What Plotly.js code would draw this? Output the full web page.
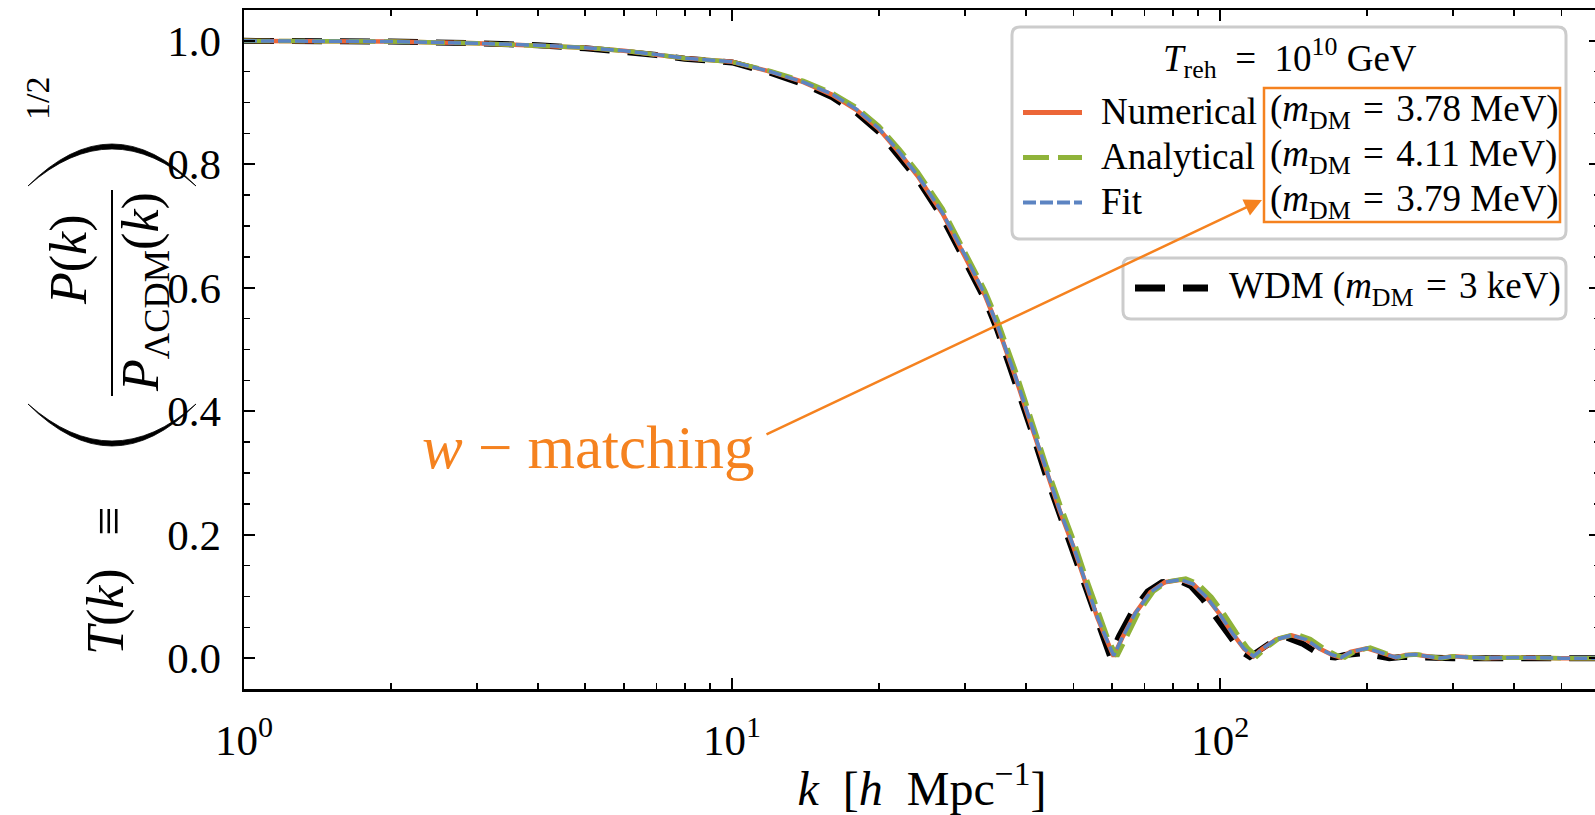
<!DOCTYPE html>
<html><head><meta charset="utf-8">
<script src="https://cdn.plot.ly/plotly-3.0.1.min.js"></script>
<style>html,body{margin:0;padding:0;overflow:hidden;background:#fff}</style>
</head><body>
<div id="chart" style="width:1602px;height:815px"></div>
<script>
// ---------------- data ----------------
const kNumerical = [1,1.5,2,3,4,5,6,7,8,10, 12,14,16,18,20,22,24,27,30,33, 35,38,41,44,47,50,53,56,58.5,60.5, 63,67,72,77,83,88,94,100,106,112, 117,122,130,140,150,160,170,177,185,200, 215,229,240,251,265,281,300,320,350,400, 450,500,600];
const tNumerical = [1,0.9995,0.999,0.996,0.993,0.989,0.984,0.978,0.972,0.966, 0.95,0.933,0.913,0.888,0.857,0.819,0.781,0.72,0.652,0.587, 0.537,0.457,0.377,0.302,0.237,0.181,0.121,0.066,0.03,0.003, 0.033,0.073,0.107,0.123,0.127,0.12,0.098,0.07,0.04,0.015, 0.003,0.015,0.03,0.037,0.03,0.015,0.005,0.001,0.01,0.016, 0.008,0.001,0.005,0.006,0.003,0,0.003,0.002,0,0.001, 0,0,0];

const kAnalytical = [1,1.5,2,3,4,5,6,7,8,10, 12,14,16,18,20,22,24,27,30,33, 35,38,41,44,47,50,53,56,59,61.5, 64,68,73,78,85,90,96,102,108,114, 119,124,132,143,153,163,173,180,188,203, 218,232,243,255,268,285,300,320,350,400, 450,500,600];
const tAnalytical = [1,0.9995,0.999,0.996,0.993,0.989,0.984,0.978,0.972,0.966, 0.951,0.935,0.916,0.892,0.862,0.825,0.788,0.728,0.66,0.595, 0.547,0.468,0.388,0.313,0.249,0.193,0.133,0.078,0.03,0.003, 0.03,0.073,0.108,0.124,0.129,0.121,0.099,0.071,0.041,0.016, 0.003,0.016,0.032,0.039,0.031,0.016,0.005,0.001,0.01,0.017, 0.008,0.001,0.005,0.006,0.003,0,0.003,0.002,0,0.001, 0,0,0];

const kFit = [1,1.5,2,3,4,5,6,7,8,10, 12,14,16,18,20,22,24,27,30,33, 35,38,41,44,47,50,53,56,58.5,60.5, 63,67,72,77,83,88,94,100,106,112, 117,122,130,140,150,160,170,177,185,200, 215,229,240,251,265,281,300,320,350,400, 450,500,600];
const tFit = [1,0.9995,0.999,0.996,0.993,0.989,0.984,0.978,0.972,0.966, 0.95,0.933,0.914,0.889,0.858,0.82,0.782,0.721,0.653,0.588, 0.538,0.458,0.378,0.303,0.238,0.182,0.122,0.067,0.031,0.004, 0.033,0.073,0.107,0.123,0.127,0.12,0.098,0.07,0.04,0.015, 0.003,0.015,0.03,0.037,0.03,0.015,0.005,0.001,0.01,0.016, 0.008,0.001,0.005,0.006,0.003,0,0.003,0.002,0,0.001, 0,0,0];

const kWDM = [1,1.5,2,3,4,5,6,7,8,10, 12,14,16,18,20,22,24,27,30,33, 35,38,41,44,47,50,53,56,58,59.5, 62,66,71,76,82,87,92,98,104,110, 115,120,128,137,147,157,166,172,180,195, 210,222,235,250,270,300,350,400,450,500, 600];
const tWDM = [1,0.9995,0.999,0.996,0.993,0.988,0.983,0.977,0.971,0.965, 0.948,0.93,0.909,0.883,0.852,0.813,0.775,0.713,0.645,0.58, 0.53,0.45,0.37,0.295,0.23,0.174,0.115,0.06,0.028,0.003, 0.035,0.075,0.108,0.123,0.126,0.117,0.096,0.066,0.036,0.012, 0.002,0.013,0.027,0.033,0.024,0.01,0.002,0.001,0.005,0.008, 0.002,0,0.002,0.001,0,0,0,0,0,0, 0];

const seriesNames = ['Numerical', 'Analytical', 'Fit'];
const massLabels = ['3.78 MeV', '4.11 MeV', '3.79 MeV'];
const wdmName = 'WDM';
const wdmMass = '3 keV';
const reheatLabel = '<i>T</i><sub>reh</sub>\u2002=\u200210<sup>10</sup> GeV';
const xTickVals = [1, 10, 100];
const xTickText = ['10<sup>0</sup>', '10<sup>1</sup>', '10<sup>2</sup>'];
const yTickVals = [0, 0.2, 0.4, 0.6, 0.8, 1.0];
const yTickText = ['0.0', '0.2', '0.4', '0.6', '0.8', '1.0'];
const xRangeK = [1, 600];
const yRange = [-0.05, 1.05];

// ---------------- styling / layout ----------------
const SERIF = 'Liberation Serif, DejaVu Serif, serif';
const C_NUM = '#EC6638', C_ANA = '#8FB33A', C_FIT = '#5C84C2', C_WDM = '#000000', C_ORANGE = '#F5821F';
const DASH_ANA = '26px,9px', DASH_FIT = '13px,4px', DASH_WDM = '30px,18px';
const FIG_W = 1602, FIG_H = 815;
const M = {l: 244, r: 2, t: 10, b: 126};
const PW = FIG_W - M.l - M.r, PH = FIG_H - M.t - M.b;
const px = x => (x - M.l) / PW;
const py = y => (M.t + PH - y) / PH;
const pt = (x, y) => px(x).toFixed(5) + ',' + py(y).toFixed(5);

function roundRect(x0, y0, x1, y1, r) {
  return 'M' + pt(x0 + r, y0) + ' L' + pt(x1 - r, y0) + ' Q' + pt(x1, y0) + ' ' + pt(x1, y0 + r) +
    ' L' + pt(x1, y1 - r) + ' Q' + pt(x1, y1) + ' ' + pt(x1 - r, y1) +
    ' L' + pt(x0 + r, y1) + ' Q' + pt(x0, y1) + ' ' + pt(x0, y1 - r) +
    ' L' + pt(x0, y0 + r) + ' Q' + pt(x0, y0) + ' ' + pt(x0 + r, y0) + ' Z';
}
function crescent(x0, x1, yEnd, yOuter, yInner) {
  const xm = (x0 + x1) / 2;
  return 'M' + pt(x0, yEnd) + ' Q' + pt(xm, 2 * yOuter - yEnd) + ' ' + pt(x1, yEnd) +
    ' Q' + pt(xm, 2 * yInner - yEnd) + ' ' + pt(x0, yEnd) + ' Z';
}
function ann(text, x, y, size, o) {
  o = o || {};
  return Object.assign({xref: 'paper', yref: 'paper', x: px(x), y: py(y), text: text, showarrow: false,
    font: {family: SERIF, size: size, color: o.color || '#000'}, xanchor: o.xanchor || 'center', yanchor: 'middle',
    textangle: o.angle || 0}, o.extra || {});
}
function seg(x0, x1, y, color, width, dash) {
  return {type: 'line', xref: 'paper', yref: 'paper', x0: px(x0), x1: px(x1), y0: py(y), y1: py(y),
    line: {color: color, width: width, dash: dash || 'solid'}, layer: 'above'};
}

const traces = [
  {x: kWDM, y: tWDM, name: wdmName, mode: 'lines', line: {color: C_WDM, width: 6, dash: DASH_WDM}},
  {x: kNumerical, y: tNumerical, name: seriesNames[0], mode: 'lines', line: {color: C_NUM, width: 4.5}},
  {x: kAnalytical, y: tAnalytical, name: seriesNames[1], mode: 'lines', line: {color: C_ANA, width: 4.5, dash: DASH_ANA}},
  {x: kFit, y: tFit, name: seriesNames[2], mode: 'lines', line: {color: C_FIT, width: 3.5, dash: DASH_FIT}}
];

const minorX = [];
for (let d = 1; d <= 100; d *= 10) for (let m = 2; m <= 9; m++) if (m * d < xRangeK[1]) minorX.push(m * d);

const axisCommon = {
  showgrid: false, zeroline: false, ticks: 'inside', ticklen: 11, tickwidth: 2, tickcolor: '#000',
  showline: true, linecolor: '#000', linewidth: 2.5, mirror: 'allticks',
  tickfont: {family: SERIF, size: 43, color: '#000'}, ticklabelstandoff: 12
};

const legendRows = [111, 156, 201];
const SP = '\u2004';
const mLabel = m => '(<i>m</i><sub>DM</sub>' + SP + '=' + SP + m + ')';
const annotations = [
  // y-axis title pieces (rotated)
  ann('<i>T</i>(<i>k</i>)', 106, 612, 52, {angle: -90}),
  ann('\u2261', 108, 522, 52, {angle: -90}),
  ann('<i>P</i>(<i>k</i>)', 69, 260, 52, {angle: -90}),
  ann('<i>P</i><sub>\u039BCDM</sub>(<i>k</i>)', 144, 292, 52, {angle: -90}),
  ann('1/2', 38, 99, 34, {angle: -90}),
  // legend texts
  ann(reheatLabel, 1290, 58, 37),
  ann(wdmName + ' ' + mLabel(wdmMass), 1227, 288, 37, {xanchor: 'left'}),
  // annotation text + arrow
  ann('<i>w</i> \u2212 matching', 420, 448, 61, {color: C_ORANGE, xanchor: 'left'}),
  {xref: 'paper', yref: 'paper', x: px(1262), y: py(200), axref: 'pixel', ayref: 'pixel', ax: 765 - 1262, ay: 435 - 200,
   text: '', showarrow: true, arrowhead: 2, arrowsize: 1.4, arrowwidth: 2.5, arrowcolor: C_ORANGE, standoff: 0}
];
seriesNames.forEach((n, i) => {
  annotations.push(ann(n, 1099, legendRows[i], 37, {xanchor: 'left'}));
  annotations.push(ann(mLabel(massLabels[i]), 1268, legendRows[i], 37, {xanchor: 'left'}));
});

const shapes = [
  {type: 'path', xref: 'paper', yref: 'paper', path: roundRect(1012, 27, 1566, 239, 8), fillcolor: 'rgba(255,255,255,0.92)', line: {color: '#CCCCCC', width: 3}, layer: 'above'},
  {type: 'path', xref: 'paper', yref: 'paper', path: roundRect(1123, 258, 1566, 319, 8), fillcolor: 'rgba(255,255,255,0.92)', line: {color: '#CCCCCC', width: 3}, layer: 'above'},
  {type: 'rect', xref: 'paper', yref: 'paper', x0: px(1264), x1: px(1560), y0: py(88), y1: py(222), line: {color: C_ORANGE, width: 2.5}, fillcolor: 'rgba(0,0,0,0)', layer: 'above'},
  seg(1023, 1082, legendRows[0] + 1.5, C_NUM, 5),
  seg(1023, 1082, legendRows[1] + 1.5, C_ANA, 5, DASH_ANA),
  seg(1023, 1082, legendRows[2] + 1.5, C_FIT, 4, DASH_FIT),
  seg(1135, 1208, 288, C_WDM, 7, DASH_WDM),
  // y-title fraction bar and big parentheses
  {type: 'line', xref: 'paper', yref: 'paper', x0: px(112), x1: px(112), y0: py(190), y1: py(396), line: {color: '#000', width: 2}},
  {type: 'path', xref: 'paper', yref: 'paper', path: crescent(28, 196, 404, 446, 441), fillcolor: '#000', line: {color: '#000', width: 0.8}},
  {type: 'path', xref: 'paper', yref: 'paper', path: crescent(28, 196, 186, 144, 149), fillcolor: '#000', line: {color: '#000', width: 0.8}}
];

const layout = {
  width: FIG_W, height: FIG_H, margin: M, paper_bgcolor: '#fff', plot_bgcolor: '#fff', showlegend: false,
  font: {family: SERIF, color: '#000'},
  xaxis: Object.assign({}, axisCommon, {
    type: 'log', range: [Math.log10(xRangeK[0]), Math.log10(xRangeK[1])],
    tickmode: 'array', tickvals: xTickVals, ticktext: xTickText,
    minor: {tickmode: 'array', tickvals: minorX, ticks: 'inside', ticklen: 6, tickwidth: 1.5, tickcolor: '#000'},
    title: {text: '<i>k</i>\u2002[<i>h</i>\u2002Mpc<sup>\u22121</sup>]', font: {family: SERIF, size: 48, color: '#000'}, standoff: 12}
  }),
  yaxis: Object.assign({}, axisCommon, {
    range: yRange, tickmode: 'array', tickvals: yTickVals, ticktext: yTickText,
    minor: {dtick: 0.05, ticks: 'inside', ticklen: 6, tickwidth: 1.5, tickcolor: '#000'}
  }),
  annotations: annotations, shapes: shapes
};

Plotly.newPlot('chart', traces, layout, {staticPlot: true, displayModeBar: false});
</script>
</body></html>
